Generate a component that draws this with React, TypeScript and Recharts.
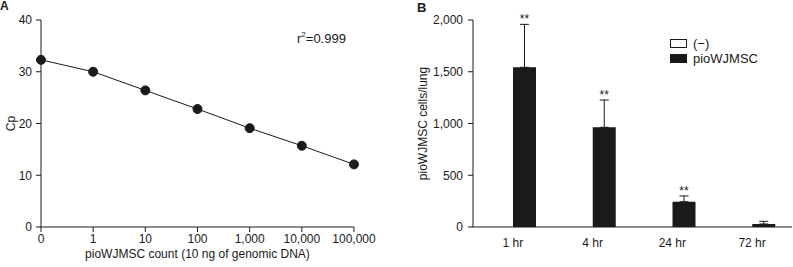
import React from 'react';
import { LineChart, Line, BarChart, Bar, XAxis, YAxis, ErrorBar, Legend, LabelList } from 'recharts';

// panel A: standard curve
const countLabels = ['0', '1', '10', '100', '1,000', '10,000', '100,000'];
const cpValues = [32.3, 30.0, 26.4, 22.8, 19.1, 15.7, 12.1];
const cpTicks = [0, 10, 20, 30, 40];

// panel B: cells per lung over time
const timeLabels = ['1 hr', '4 hr', '24 hr', '72 hr'];
const controlCells = [0, 0, 0, 0];
const pioCells = [1543, 963, 244, 29];
const pioErrors = [415, 264, 56, 26];
const significance = ['**', '**', '**', ''];
const cellTicks = [0, 500, 1000, 1500, 2000];
const edgeTicks = [0, 1, 2, 3, 4];

const FONT = 'Liberation Sans, Arial, sans-serif';
const INK = '#1a1a1a';

const curveData = countLabels.map((label, i) => ({ label, cp: cpValues[i] }));
const cellData = timeLabels.map((time, i) => ({
  time,
  ctrl: controlCells[i],
  cells: pioCells[i],
  err: [0, pioErrors[i]],
  sig: significance[i],
}));

const tickStyle = { fontSize: 12, fill: INK, fontFamily: FONT };

function StarLabel(props: any) {
  const { x, y, width, height, index } = props;
  const mark = significance[index];
  if (!mark) return null;
  const perUnit = height / pioCells[index];
  const top = y - pioErrors[index] * perUnit;
  return (
    <text x={x + width / 2} y={top - 1} textAnchor="middle" fontSize={12} fill={INK} fontFamily={FONT}>
      {mark}
    </text>
  );
}

function CellLegend({ payload }: any) {
  return (
    <div style={{ fontFamily: FONT, fontSize: 13, color: INK, lineHeight: '13px' }}>
      {(payload || []).map((entry: any) => (
        <div key={entry.value} style={{ display: 'flex', alignItems: 'center', marginBottom: 2 }}>
          <span
            style={{
              display: 'inline-block',
              width: 17,
              height: 9,
              boxSizing: 'border-box',
              border: `1px solid ${INK}`,
              background: entry.payload?.fill ?? entry.color,
              marginRight: 6,
            }}
          />
          {entry.value}
        </div>
      ))}
    </div>
  );
}

export default function App() {
  return (
    <div style={{ position: 'fixed', left: 0, top: 0, width: 793, height: 267, background: '#fff' }}>
      <div style={{ position: 'absolute', left: 0, top: 0 }}>
        <LineChart width={400} height={267} data={curveData} margin={{ top: 20, right: 46, left: 0, bottom: 0 }}>
          <XAxis
            dataKey="label"
            interval={0}
            height={40}
            tick={tickStyle}
            tickSize={5}
            tickMargin={2}
            stroke={INK}
            label={{ value: 'pioWJMSC count (10 ng of genomic DNA)', position: 'center', dy: 7, style: { fontSize: 12, fill: INK, fontFamily: FONT } }}
          />
          <YAxis
            domain={[0, 40]}
            ticks={cpTicks}
            width={41}
            tick={tickStyle}
            tickSize={5}
            tickMargin={4}
            stroke={INK}
            label={{ value: 'Cp', angle: -90, position: 'center', dx: -10, style: { fontSize: 12, fill: INK, fontFamily: FONT } }}
          />
          <Line
            dataKey="cp"
            stroke={INK}
            strokeWidth={1}
            dot={{ r: 4.5, fill: INK, stroke: INK }}
            isAnimationActive={false}
          />
        </LineChart>
      </div>

      <div style={{ position: 'absolute', left: 400, top: 0 }}>
        <BarChart width={393} height={267} data={cellData} margin={{ top: 20, right: 1, left: 0, bottom: 0 }} barSize={23} barGap={0}>
          <XAxis xAxisId="edges" type="number" domain={[0, 4]} ticks={edgeTicks} tick={false} axisLine={false} height={0} tickSize={5} stroke={INK} />
          <XAxis
            dataKey="time"
            interval={0}
            height={40}
            tickLine={false}
            tick={tickStyle}
            tickMargin={5}
            stroke={INK}
          />
          <YAxis
            domain={[0, 2000]}
            ticks={cellTicks}
            width={73}
            tick={tickStyle}
            tickSize={5}
            tickMargin={5}
            stroke={INK}
            tickFormatter={(v: number) => v.toLocaleString('en-US')}
            label={{ value: 'pioWJMSC cells/lung', angle: -90, position: 'center', dx: -14, style: { fontSize: 12, fill: INK, fontFamily: FONT } }}
          />
          <Legend
            layout="vertical"
            align="center"
            verticalAlign="middle"
            content={<CellLegend />}
            wrapperStyle={{ position: 'absolute', left: 270, top: 37, width: 'auto' }}
          />
          <Bar dataKey="ctrl" name="(−)" fill="#ffffff" stroke={INK} isAnimationActive={false} />
          <Bar dataKey="cells" name="pioWJMSC" fill={INK} isAnimationActive={false}>
            <ErrorBar dataKey="err" direction="y" width={4.5} stroke={INK} strokeWidth={1} />
            <LabelList dataKey="sig" content={<StarLabel />} />
          </Bar>
        </BarChart>
      </div>

      <svg width={793} height={267} style={{ position: 'absolute', left: 0, top: 0, pointerEvents: 'none' }}>
        <text x={0} y={10} fontSize={12} fontWeight="bold" fill={INK} fontFamily={FONT}>A</text>
        <text x={417} y={12} fontSize={13} fontWeight="bold" fill={INK} fontFamily={FONT}>B</text>
        <text x={297} y={43} fontSize={13} fill={INK} fontFamily={FONT}>
          r<tspan fontSize={8} dy={-6}>2</tspan><tspan dy={6}>=0.999</tspan>
        </text>
      </svg>
    </div>
  );
}
